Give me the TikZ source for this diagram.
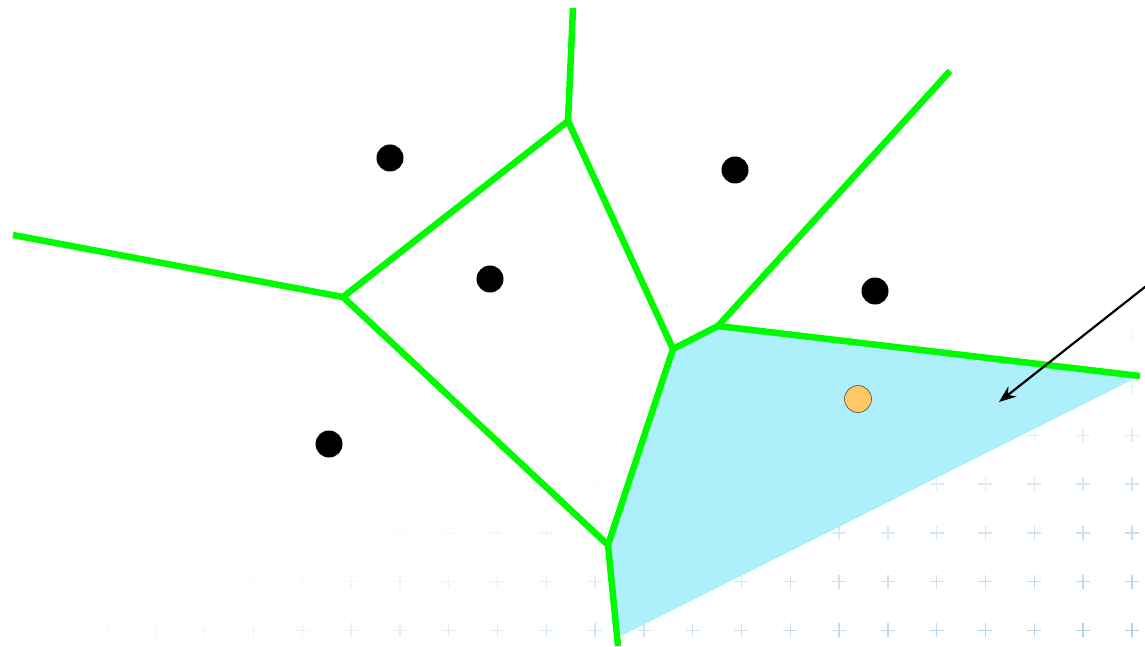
\documentclass[tikz,border=0pt]{standalone}
\usepackage{tikz}
\usetikzlibrary{arrows.meta, positioning, calc}
\definecolor{edgegreen}{RGB}{0, 250, 0}
\definecolor{cellblue}{RGB}{174, 239, 252}
\definecolor{queryorange}{RGB}{255, 200, 100}
\definecolor{plusblue}{RGB}{120, 170, 210}

\begin{document}
\begin{tikzpicture}[
  x=1pt, y=-1pt,
  edge/.style={draw=edgegreen, line width=6.5pt, line join=round},
  site/.style={circle, fill=black, minimum size=27pt, inner sep=0pt},
  query/.style={circle, draw=black!70, line width=0.6pt, fill=queryorange, minimum size=27pt, inner sep=0pt},
  plusmark/.style={draw=plusblue, line width=1.4pt}
]
  \useasboundingbox (0,0) rectangle (1145,647);

  % faint background grid of crosses
  \foreach \row in {0,...,6} {
    \foreach \col in {-11,...,11} {
      \pgfmathsetmacro{\px}{595 + 48.8*\col}
      \pgfmathsetmacro{\py}{338 + 48.7*\row}
      \pgfmathsetmacro{\op}{max(0, min(1, (\px + 3.5*\py - 2200)/1100))*0.55}
      \draw[plusmark, opacity=\op] (\px-7,\py) -- (\px+7,\py) (\px,\py-7) -- (\px,\py+7);
    }
  }

  % vertices and open ends
  \coordinate (vtop) at (568,121);
  \coordinate (vleft) at (343,297);
  \coordinate (vmid) at (673,349);
  \coordinate (vright) at (718,326);
  \coordinate (vlow) at (608,545);
  \coordinate (endtop) at (573,8);
  \coordinate (endleft) at (13,235);
  \coordinate (endne) at (950,71);
  \coordinate (endeast) at (1140,376);
  \coordinate (endsouth) at (618,646);
  \coordinate (cellcorner) at (621,636);

  % highlighted cell
  \fill[cellblue] (vmid) -- (vright) -- (endeast) -- (cellcorner) -- (vlow) -- cycle;

  \draw[edge] (endtop) -- (vtop);
  \draw[edge] (vtop) -- (vleft);
  \draw[edge] (vleft) -- (endleft);
  \draw[edge] (vtop) -- (vmid);
  \draw[edge] (vleft) -- (vlow);
  \draw[edge] (vmid) -- (vlow);
  \draw[edge] (vmid) -- (vright);
  \draw[edge] (vright) -- (endne);
  \draw[edge] (vright) -- (endeast);
  \draw[edge] (vlow) -- (endsouth);

  % sites
  \node[site] (s1) at (390,158) {};
  \node[site] (s2) at (735,170) {};
  \node[site] (s3) at (490,279) {};
  \node[site] (s4) at (875,291) {};
  \node[site] (s5) at (329,444) {};
  \node[query] (q) at (858,399) {};

  \coordinate (pointerfrom) at (1150,283);
  \coordinate (pointerto) at (999,402);
  \draw[line width=2.2pt, -{Stealth[length=17pt, width=13pt]}] (pointerfrom) -- (pointerto);
\end{tikzpicture}
\end{document}
